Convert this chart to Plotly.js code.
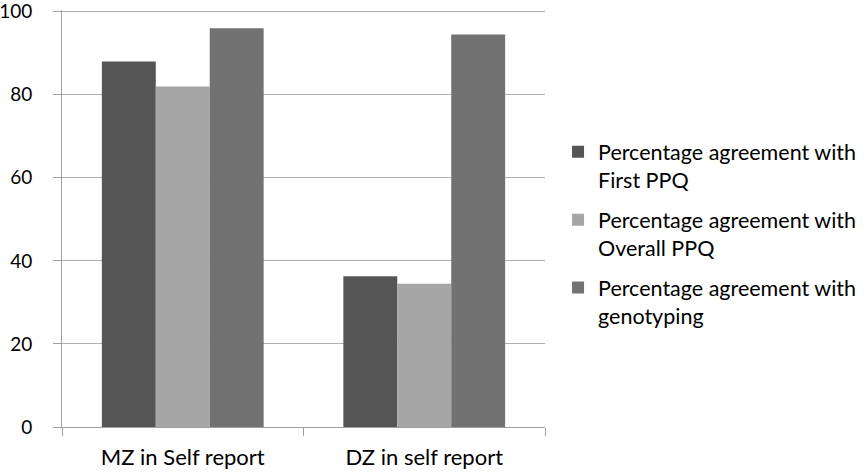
<!DOCTYPE html>
<html>
<head>
<meta charset="utf-8">
<script src="https://cdn.plot.ly/plotly-3.0.1.min.js"></script>
<style>html,body{margin:0;padding:0;background:#fff;}#chart{width:866px;height:472px;}</style>
</head>
<body>
<div id="chart"></div>
<script>
const categories = ["MZ in Self report", "DZ in self report"];
const seriesNames = ["Percentage agreement with<br>First PPQ", "Percentage agreement with<br>Overall PPQ", "Percentage agreement with<br>genotyping"];
const firstPPQ = [88, 36.3];
const overallPPQ = [82, 34.5];
const genotyping = [96, 94.5];
const colors = ["#555555", "#a6a6a6", "#727272"];
const yTicks = [0, 20, 40, 60, 80, 100];

const values = [firstPPQ, overallPPQ, genotyping];
const traces = values.map((v, i) => ({
  type: "bar",
  x: categories,
  y: v,
  name: seriesNames[i],
  legendgroup: "g" + i,
  marker: {color: colors[i], line: {width: 0}}
}));

const layout = {
  width: 866, height: 472,
  margin: {l: 62, r: 321, t: 10, b: 45, autoexpand: false},
  paper_bgcolor: "#fff", plot_bgcolor: "#fff",
  font: {family: "Lato, 'Open Sans', sans-serif", size: 22, color: "#000"},
  barmode: "group",
  bargap: 0.33, bargroupgap: 0,
  showlegend: true,
  legend: {x: 1.027, y: 0.709, xanchor: "left", yanchor: "top", valign: "top",
    font: {size: 21.5, color: "#000"}, tracegroupgap: 9, itemwidth: 30,
    borderwidth: 0, bgcolor: "rgba(0,0,0,0)"},
  xaxis: {
    showline: true, linecolor: "#a0a0a0", linewidth: 1,
    ticks: "outside", tickson: "boundaries", ticklen: 8, tickcolor: "#a0a0a0",
    tickfont: {size: 22}, showgrid: false, ticklabelstandoff: 11
  },
  yaxis: {
    range: [0, 100.4], tickvals: yTicks, ticktext: yTicks.map(String),
    showline: true, linecolor: "#a0a0a0", linewidth: 1,
    ticks: "outside", ticklen: 8, tickcolor: "#a0a0a0",
    showgrid: true, gridcolor: "#b0b0b0", gridwidth: 1,
    zeroline: false, tickfont: {size: 19}, ticklabelstandoff: 17,
    ticklabeloverflow: "allow"
  }
};

Plotly.newPlot("chart", traces, layout, {displayModeBar: false, staticPlot: true});
</script>
</body>
</html>
